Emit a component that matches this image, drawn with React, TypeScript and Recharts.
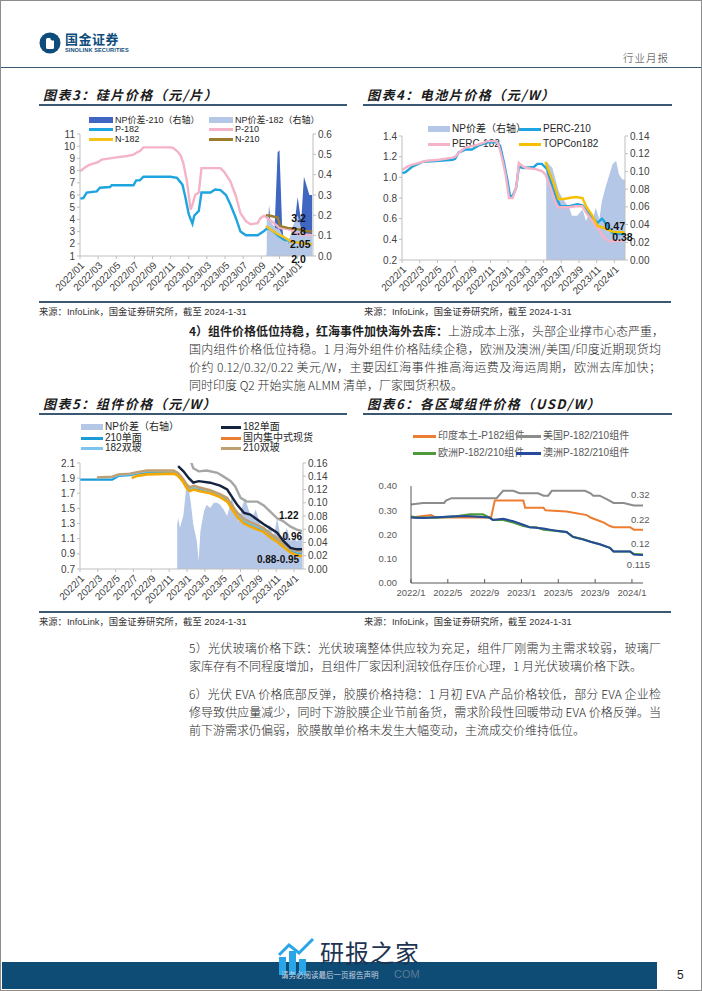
import React from 'react'
import { ComposedChart, Line, Area, XAxis, YAxis, ReferenceDot } from 'recharts'

type Pt = [number, number]

// x values are months counted from 2022/01 (0 = 2022/01, 24 = 2024/01)
const biMonthly = ['2022/01', '2022/03', '2022/05', '2022/07', '2022/09', '2022/11', '2023/01', '2023/03', '2023/05', '2023/07', '2023/09', '2023/11', '2024/01']
const biMonthlyShort = ['2022/1', '2022/3', '2022/5', '2022/7', '2022/9', '2022/11', '2023/1', '2023/3', '2023/5', '2023/7', '2023/9', '2023/11', '2024/1']
const quarterly = ['2022/1', '2022/5', '2022/9', '2023/1', '2023/5', '2023/9', '2024/1']

// 图表3 硅片价格（元/片）
const waferP182: Pt[] = [[0, 5.7], [0.37, 5.75], [0.74, 6.2], [1.85, 6.3], [2.2, 6.6], [3.3, 6.65], [3.5, 6.8], [5.9, 6.8], [6.2, 7.2], [6.6, 7.2], [7.0, 7.5], [10.0, 7.5], [10.7, 7.4], [11.3, 6.85], [11.6, 5.9], [12.0, 4.4], [12.4, 3.65], [12.6, 4.3], [13.1, 4.7], [13.4, 6.2], [14.4, 6.2], [14.9, 6.45], [15.5, 6.4], [16.1, 6.0], [16.6, 5.2], [17.2, 4.1], [17.7, 3.0], [18.3, 2.7], [19.6, 2.7], [20.3, 3.05], [20.7, 3.3], [21.2, 3.1], [21.8, 2.7], [22.5, 2.35], [23.2, 2.2], [24.0, 2.1], [25.6, 1.95]]
const waferP210: Pt[] = [[0, 7.95], [0.74, 8.35], [1.1, 8.5], [2.0, 8.7], [2.4, 8.9], [3.3, 9.0], [4.2, 9.1], [5.2, 9.2], [5.9, 9.3], [6.3, 9.5], [6.6, 9.6], [7.0, 9.9], [10.0, 9.9], [10.3, 9.85], [10.7, 9.6], [11.1, 9.25], [11.4, 8.6], [11.8, 7.1], [12.2, 4.8], [12.4, 5.2], [12.7, 6.0], [13.1, 6.2], [13.4, 8.2], [15.5, 8.2], [15.9, 7.9], [16.6, 7.1], [17.2, 5.9], [17.7, 4.5], [18.3, 3.85], [18.8, 3.6], [19.6, 3.7], [19.9, 4.1], [20.3, 4.3], [20.7, 4.1], [21.4, 3.7], [22.0, 3.3], [22.9, 3.2], [23.6, 3.05], [24.0, 2.8], [25.6, 2.7]]
const waferN182: Pt[] = [[20.5, 3.45], [21.0, 3.2], [21.8, 2.8], [22.5, 2.55], [23.2, 2.2], [24.0, 2.1], [25.1, 2.0], [25.6, 1.95]]
const waferN210: Pt[] = [[20.5, 4.35], [21.0, 4.3], [21.8, 4.15], [22.1, 3.45], [22.9, 3.3], [24.0, 3.2], [24.8, 3.05], [25.6, 3.0]]
const waferNp210: Pt[] = [[20.6, 0], [20.85, 0.25], [21.0, 0.17], [21.4, 0.07], [21.8, 0.51], [22.0, 0.52], [22.3, 0.14], [22.7, 0.01], [23.1, 0.09], [23.4, 0.04], [24.0, 0.29], [24.4, 0.17], [24.7, 0.39], [25.3, 0.3], [25.6, 0.3]]
const waferNp182: Pt[] = [[20.6, 0.19], [21.0, 0.17], [21.5, 0.14], [22.0, 0.13], [22.5, 0.09], [23.0, 0.06], [23.4, 0.14], [24.0, 0.2], [24.5, 0.12], [25.0, 0.1], [25.6, 0.1]]
const waferLeftTicks = [1, 2, 3, 4, 5, 6, 7, 8, 9, 10, 11]
const waferRightTicks = [0, 0.1, 0.2, 0.3, 0.4, 0.5, 0.6]

// 图表4 电池片价格（元/W）
const cellPerc210: Pt[] = [[0, 1.04], [0.4, 1.05], [1.1, 1.1], [2.3, 1.15], [4.2, 1.16], [5.7, 1.17], [6.0, 1.18], [6.4, 1.24], [7.2, 1.27], [7.9, 1.27], [8.7, 1.31], [9.8, 1.34], [10.8, 1.34], [11.1, 1.3], [11.5, 1.15], [11.9, 0.98], [12.2, 0.82], [12.5, 0.82], [12.9, 0.9], [13.2, 1.1], [13.8, 1.09], [14.9, 1.1], [15.3, 1.13], [15.8, 1.13], [16.4, 1.08], [17.0, 0.9], [17.5, 0.79], [17.9, 0.72], [18.9, 0.72], [19.8, 0.74], [20.4, 0.73], [20.9, 0.67], [21.5, 0.61], [22.1, 0.56], [22.6, 0.6], [22.8, 0.58], [23.4, 0.51], [23.8, 0.46], [24.3, 0.45], [25.2, 0.45]]
const cellPerc182: Pt[] = [[0, 1.07], [0.75, 1.11], [1.9, 1.14], [2.8, 1.16], [4.2, 1.17], [5.7, 1.19], [6.0, 1.2], [6.6, 1.25], [7.2, 1.29], [8.3, 1.31], [9.1, 1.33], [9.6, 1.35], [10.6, 1.35], [10.9, 1.32], [11.3, 1.19], [11.7, 1.03], [12.1, 0.8], [12.5, 0.8], [12.8, 0.87], [13.0, 0.96], [13.2, 1.14], [13.6, 1.11], [14.0, 1.09], [15.1, 1.08], [15.8, 1.06], [16.2, 1.03], [16.8, 0.9], [17.4, 0.74], [17.7, 0.71], [18.9, 0.71], [19.6, 0.72], [20.4, 0.72], [20.8, 0.66], [21.5, 0.58], [22.1, 0.51], [22.8, 0.42], [23.4, 0.38], [24.0, 0.38], [25.2, 0.39]]
const cellTopcon: Pt[] = [[16.2, 1.15], [16.6, 1.06], [17.2, 0.93], [17.7, 0.79], [18.3, 0.79], [18.9, 0.8], [19.6, 0.81], [20.4, 0.8], [20.8, 0.72], [21.5, 0.63], [22.1, 0.53], [22.8, 0.51], [23.6, 0.48], [24.2, 0.47], [25.2, 0.47]]
const cellNp: Pt[] = [[16.3, 0.112], [16.6, 0.108], [17.0, 0.104], [17.4, 0.089], [17.7, 0.078], [18.1, 0.07], [18.9, 0.059], [19.2, 0.05], [19.8, 0.05], [20.4, 0.057], [20.8, 0.044], [21.1, 0.052], [21.5, 0.044], [21.9, 0.059], [22.3, 0.046], [22.6, 0.067], [23.0, 0.082], [23.4, 0.095], [23.8, 0.108], [24.2, 0.112], [24.5, 0.097], [24.9, 0.091], [25.2, 0.091]]
const cellLeftTicks = [0.2, 0.4, 0.6, 0.8, 1.0, 1.2, 1.4]
const cellRightTicks = [0, 0.02, 0.04, 0.06, 0.08, 0.1, 0.12, 0.14]

// 图表5 组件价格（元/W）
const modMono210: Pt[] = [[0, 1.88], [3.6, 1.88], [4.3, 1.93], [5.6, 1.94], [6.4, 1.96], [7.5, 1.97], [10.5, 1.97], [11.0, 1.95], [11.5, 1.88], [12.0, 1.78], [12.3, 1.75], [12.8, 1.77], [13.3, 1.76], [14.6, 1.72], [15.7, 1.67], [16.5, 1.62], [17.0, 1.53], [17.6, 1.42], [18.4, 1.33], [19.1, 1.29], [19.9, 1.25], [20.6, 1.22], [21.3, 1.15], [22.1, 1.09], [22.8, 1.02], [23.6, 0.95], [24.3, 0.92], [24.9, 0.91]]
const modBi182: Pt[] = [[1.9, 1.9], [3.6, 1.91], [4.3, 1.94], [5.6, 1.95], [6.4, 1.97], [7.5, 1.99], [10.5, 1.99], [11.0, 1.96], [11.5, 1.89], [12.0, 1.79], [12.3, 1.76], [12.8, 1.78], [13.3, 1.77], [14.6, 1.73], [15.7, 1.68], [16.5, 1.63], [17.0, 1.54], [17.6, 1.43], [18.4, 1.34], [19.1, 1.3], [19.9, 1.26], [20.6, 1.23], [21.3, 1.16], [22.1, 1.1], [22.8, 1.03], [23.6, 0.96], [24.3, 0.93], [24.9, 0.92]]
const modBi210: Pt[] = [[1.9, 1.91], [3.6, 1.92], [4.3, 1.95], [5.6, 1.96], [6.4, 1.98], [7.5, 2.0], [10.5, 2.0], [11.0, 1.97], [11.5, 1.9], [12.0, 1.81], [12.3, 1.78], [12.8, 1.8], [13.3, 1.78], [14.6, 1.74], [15.7, 1.69], [16.5, 1.64], [17.0, 1.55], [17.6, 1.45], [18.4, 1.36], [19.1, 1.32], [19.9, 1.28], [20.6, 1.24], [21.3, 1.17], [22.1, 1.11], [22.8, 1.04], [23.6, 0.97], [24.3, 0.94], [24.9, 0.93]]
const modSpot: Pt[] = [[5.8, 1.9], [6.4, 1.93], [7.5, 1.95], [10.5, 1.96], [11.0, 1.93], [11.5, 1.86], [12.0, 1.76], [12.3, 1.73], [12.8, 1.75], [13.3, 1.73], [14.6, 1.7], [15.7, 1.65], [16.5, 1.59], [17.0, 1.5], [17.6, 1.39], [18.4, 1.3], [19.1, 1.26], [19.9, 1.22], [20.6, 1.19], [21.3, 1.12], [22.1, 1.06], [22.8, 0.99], [23.6, 0.92], [24.3, 0.88], [24.9, 0.87]]
const modMono182: Pt[] = [[11.0, 2.06], [11.6, 1.99], [12.2, 1.9], [12.7, 1.84], [13.3, 1.86], [14.6, 1.84], [15.7, 1.8], [16.5, 1.75], [17.0, 1.66], [17.6, 1.55], [18.4, 1.44], [19.1, 1.42], [19.9, 1.35], [20.6, 1.29], [21.3, 1.24], [22.1, 1.18], [22.8, 1.07], [23.6, 0.98], [24.3, 0.96], [24.9, 0.96]]
const modGrey: Pt[] = [[12.2, 2.2], [12.7, 2.03], [13.3, 1.99], [14.2, 2.0], [15.4, 1.97], [16.1, 1.92], [16.9, 1.86], [17.4, 1.79], [18.0, 1.64], [18.7, 1.59], [19.9, 1.59], [20.6, 1.54], [21.3, 1.46], [22.1, 1.37], [22.8, 1.33], [23.6, 1.26], [24.3, 1.22], [24.9, 1.2]]
const modNp: Pt[] = [[10.9, 0.067], [11.0, 0.077], [11.2, 0.062], [11.6, 0.082], [11.9, 0.122], [12.2, 0.12], [12.4, 0.102], [12.7, 0.067], [13.1, 0.042], [13.3, 0.012], [13.5, 0.057], [13.9, 0.087], [14.2, 0.097], [14.6, 0.092], [15.0, 0.1], [15.4, 0.1], [15.7, 0.097], [16.1, 0.09], [16.5, 0.08], [16.9, 0.1], [17.0, 0.112], [17.4, 0.087], [17.8, 0.072], [18.2, 0.095], [18.5, 0.107], [18.9, 0.09], [19.3, 0.077], [19.7, 0.09], [20.2, 0.067], [20.6, 0.062], [21.0, 0.057], [21.3, 0.067], [21.7, 0.047], [22.1, 0.077], [22.5, 0.047], [22.8, 0.05], [23.2, 0.062], [23.6, 0.042], [24.0, 0.047], [24.3, 0.042], [24.9, 0.047]]
const modLeftTicks = [0.7, 0.9, 1.1, 1.3, 1.5, 1.7, 1.9, 2.1]
const modRightTicks = [0, 0.02, 0.04, 0.06, 0.08, 0.1, 0.12, 0.14, 0.16]

// 图表6 各区域组件价格（USD/W）
const regIndia: Pt[] = [[0, 0.27], [2.2, 0.28], [2.7, 0.27], [8.7, 0.27], [9.1, 0.34], [12.2, 0.34], [12.4, 0.31], [14.4, 0.31], [14.6, 0.3], [16.9, 0.295], [19.1, 0.28], [19.5, 0.27], [20.2, 0.26], [20.9, 0.25], [21.6, 0.235], [22.0, 0.23], [23.8, 0.23], [24.2, 0.22], [25.2, 0.22]]
const regUS: Pt[] = [[0, 0.324], [1.3, 0.33], [3.6, 0.33], [3.8, 0.34], [4.4, 0.35], [9.3, 0.35], [10.0, 0.38], [11.1, 0.38], [11.8, 0.37], [13.8, 0.37], [14.4, 0.36], [14.9, 0.36], [15.3, 0.38], [18.9, 0.38], [19.5, 0.37], [19.8, 0.36], [20.5, 0.36], [21.3, 0.345], [22.0, 0.33], [23.1, 0.33], [24.2, 0.32], [25.2, 0.32]]
const regEurope: Pt[] = [[0, 0.275], [0.5, 0.27], [2.7, 0.27], [4.9, 0.275], [6.4, 0.283], [7.8, 0.283], [8.5, 0.27], [8.9, 0.26], [10.0, 0.26], [11.1, 0.25], [12.2, 0.235], [12.9, 0.23], [13.6, 0.23], [14.4, 0.22], [15.8, 0.215], [16.9, 0.21], [17.6, 0.19], [18.7, 0.18], [19.5, 0.17], [20.5, 0.16], [21.6, 0.145], [22.0, 0.13], [23.8, 0.13], [24.2, 0.12], [25.2, 0.117]]
const regAustralia: Pt[] = [[0, 0.27], [1.3, 0.268], [4.9, 0.275], [6.4, 0.275], [8.5, 0.27], [8.9, 0.26], [10.0, 0.265], [11.1, 0.255], [12.2, 0.24], [12.9, 0.23], [14.4, 0.225], [15.8, 0.215], [16.9, 0.21], [17.6, 0.19], [18.7, 0.18], [19.5, 0.17], [20.5, 0.16], [21.6, 0.145], [22.0, 0.13], [23.8, 0.13], [24.2, 0.117], [25.2, 0.115]]
const regTicks = [0, 0.1, 0.2, 0.3, 0.4]

const SANS = 'Arial, "Liberation Sans", "Noto Sans CJK SC", sans-serif'
const CJK = '"Noto Sans CJK SC", sans-serif'
const RULE = '#3b5873'
const AXIS = '#bfbfbf'
const TICK = { fontSize: 10, fill: '#404040', fontFamily: SANS }

const rows = (pts: Pt[]) => pts.map(([m, v]) => ({ m, v }))
const evenTicks = (n: number, step: number) => Array.from({ length: n }, (_, i) => i * step)

function Key({ x, y, w, color, text, area = false, tc = '#262626', size = 10, h = 14 }: any) {
  return (
    <div style={{ position: 'absolute', left: x, top: y - h / 2, height: h, lineHeight: `${h}px`, display: 'flex', alignItems: 'center', whiteSpace: 'nowrap', fontSize: size, color: tc, fontFamily: SANS }}>
      <span style={{ display: 'inline-block', width: w, height: area ? 6 : 3, background: color, marginRight: 2 }} />
      {text}
    </div>
  )
}

function Title({ x, y, w, text }: any) {
  return (
    <>
      <div style={{ position: 'absolute', left: x, top: y - 9, lineHeight: '18px', fontFamily: CJK, fontWeight: 700, fontStyle: 'italic', fontSize: 13, letterSpacing: 1.5, color: '#1a1a1a', whiteSpace: 'nowrap' }}>{text}</div>
      <div style={{ position: 'absolute', left: x - 4, top: y + 9, width: w, height: 1.5, background: RULE }} />
    </>
  )
}

function Source({ x, y }: any) {
  return (
    <div style={{ position: 'absolute', left: x, top: y - 6, lineHeight: '12px', fontSize: 9.3, fontFamily: SANS, color: '#333', whiteSpace: 'nowrap' }}>
      来源：InfoLink，国金证券研究所，截至 2024-1-31
    </div>
  )
}

function Para({ top, lines }: { top: number; lines: React.ReactNode[] }) {
  return (
    <div style={{ position: 'absolute', left: 188, top, width: 472, fontFamily: CJK, fontWeight: 300, fontSize: 12, color: '#1f1f1f', lineHeight: '18px' }}>
      {lines.map((l, i) => (
        <div key={i} style={{ textAlign: 'justify', textAlignLast: i === lines.length - 1 ? 'left' : 'justify', whiteSpace: 'nowrap' }}>{l}</div>
      ))}
    </div>
  )
}

const note = (fs = 10.5) => ({ position: 'center' as const, fill: '#111', fontSize: fs, fontWeight: 700, fontFamily: SANS })

function WaferChart() {
  return (
    <div style={{ position: 'absolute', left: 30, top: 108 }}>
      <ComposedChart width={320} height={190} margin={{ top: 25, right: 0, bottom: 0, left: 0 }}>
        <XAxis dataKey="m" type="number" domain={[0, 25.7]} ticks={evenTicks(13, 2)} interval={0} tickFormatter={(v) => biMonthly[Math.round(v / 2)]} angle={-45} textAnchor="end" height={43} tick={TICK} stroke={AXIS} tickSize={3} />
        <YAxis yAxisId="l" domain={[1, 11]} ticks={waferLeftTicks} interval={0} width={49} tick={TICK} stroke={AXIS} tickSize={3} allowDataOverflow />
        <YAxis yAxisId="r" orientation="right" domain={[0, 0.6]} ticks={waferRightTicks} interval={0} width={38} tick={TICK} stroke={AXIS} tickSize={3} tickFormatter={(v) => v.toFixed(1)} allowDataOverflow />
        <Area data={rows(waferNp210)} dataKey="v" yAxisId="r" type="linear" stroke="none" fill="#3f66c0" fillOpacity={1} isAnimationActive={false} />
        <Area data={rows(waferNp182)} dataKey="v" yAxisId="r" type="linear" stroke="none" fill="#b4c7e7" fillOpacity={1} isAnimationActive={false} />
        <Line data={rows(waferP210)} dataKey="v" yAxisId="l" stroke="#f5b3c7" strokeWidth={2.4} dot={false} isAnimationActive={false} />
        <Line data={rows(waferP182)} dataKey="v" yAxisId="l" stroke="#1ea5df" strokeWidth={2.4} dot={false} isAnimationActive={false} />
        <Line data={rows(waferN210)} dataKey="v" yAxisId="l" stroke="#9c7d2c" strokeWidth={2.4} dot={false} isAnimationActive={false} />
        <Line data={rows(waferN182)} dataKey="v" yAxisId="l" stroke="#f5c318" strokeWidth={2.4} dot={false} isAnimationActive={false} />
        <ReferenceDot x={24.1} y={4.11} yAxisId="l" r={0} ifOverflow="visible" label={{ value: '3.2', ...note() }} />
        <ReferenceDot x={24.1} y={3.05} yAxisId="l" r={0} ifOverflow="visible" label={{ value: '2.8', ...note() }} />
        <ReferenceDot x={24.3} y={1.98} yAxisId="l" r={0} ifOverflow="visible" label={{ value: '2.05', ...note() }} />
        <ReferenceDot x={24.1} y={0.76} yAxisId="l" r={0} ifOverflow="visible" label={{ value: '2.0', ...note() }} />
      </ComposedChart>
    </div>
  )
}

function CellChart() {
  return (
    <div style={{ position: 'absolute', left: 355, top: 108 }}>
      <ComposedChart width={320} height={190} margin={{ top: 27, right: 0, bottom: 0, left: 0 }}>
        <XAxis dataKey="m" type="number" domain={[0, 25.2]} ticks={evenTicks(13, 2)} interval={0} tickFormatter={(v) => biMonthlyShort[Math.round(v / 2)]} angle={-45} textAnchor="end" height={39} tick={TICK} stroke={AXIS} tickSize={3} />
        <YAxis yAxisId="l" domain={[0.2, 1.4]} ticks={cellLeftTicks} interval={0} width={46} tick={TICK} stroke={AXIS} tickSize={3} tickFormatter={(v) => v.toFixed(1)} allowDataOverflow />
        <YAxis yAxisId="r" orientation="right" domain={[0, 0.14]} ticks={cellRightTicks} interval={0} width={51} tick={TICK} stroke={AXIS} tickSize={3} tickFormatter={(v) => v.toFixed(2)} allowDataOverflow />
        <Area data={rows(cellNp)} dataKey="v" yAxisId="r" type="linear" stroke="none" fill="#b4c7e7" fillOpacity={1} isAnimationActive={false} />
        <Line data={rows(cellPerc210)} dataKey="v" yAxisId="l" stroke="#1ea5df" strokeWidth={2.4} dot={false} isAnimationActive={false} />
        <Line data={rows(cellPerc182)} dataKey="v" yAxisId="l" stroke="#f5b3c7" strokeWidth={2.4} dot={false} isAnimationActive={false} />
        <Line data={rows(cellTopcon)} dataKey="v" yAxisId="l" stroke="#f5c000" strokeWidth={2.4} dot={false} isAnimationActive={false} />
        <ReferenceDot x={24.05} y={0.53} yAxisId="l" r={0} ifOverflow="visible" label={{ value: '0.47', ...note() }} />
        <ReferenceDot x={24.9} y={0.416} yAxisId="l" r={0} ifOverflow="visible" label={{ value: '0.38', ...note() }} />
      </ComposedChart>
    </div>
  )
}

function ModuleChart() {
  return (
    <div style={{ position: 'absolute', left: 30, top: 420 }}>
      <ComposedChart width={320} height={185} margin={{ top: 42, right: 0, bottom: 0, left: 0 }}>
        <XAxis dataKey="m" type="number" domain={[0, 25]} ticks={evenTicks(13, 2)} interval={0} tickFormatter={(v) => biMonthlyShort[Math.round(v / 2)]} angle={-45} textAnchor="end" height={37} tick={TICK} stroke={AXIS} tickSize={3} />
        <YAxis yAxisId="l" domain={[0.7, 2.1]} ticks={modLeftTicks} interval={0} width={49} tick={TICK} stroke={AXIS} tickSize={3} tickFormatter={(v) => v.toFixed(1)} allowDataOverflow />
        <YAxis yAxisId="r" orientation="right" domain={[0, 0.16]} ticks={modRightTicks} interval={0} width={48} tick={TICK} stroke={AXIS} tickSize={3} tickFormatter={(v) => v.toFixed(2)} allowDataOverflow />
        <Area data={rows(modNp)} dataKey="v" yAxisId="r" type="linear" stroke="none" fill="#b4c7e7" fillOpacity={1} isAnimationActive={false} />
        <Line data={rows(modGrey)} dataKey="v" yAxisId="l" stroke="#a6a6a6" strokeWidth={2.4} dot={false} isAnimationActive={false} />
        <Line data={rows(modMono210)} dataKey="v" yAxisId="l" stroke="#1a9ad6" strokeWidth={2.4} dot={false} isAnimationActive={false} />
        <Line data={rows(modBi182)} dataKey="v" yAxisId="l" stroke="#7cc4ec" strokeWidth={2.4} dot={false} isAnimationActive={false} />
        <Line data={rows(modBi210)} dataKey="v" yAxisId="l" stroke="#bfa073" strokeWidth={2.4} dot={false} isAnimationActive={false} />
        <Line data={rows(modSpot)} dataKey="v" yAxisId="l" stroke="#f5a800" strokeWidth={2.6} dot={false} isAnimationActive={false} />
        <Line data={rows(modMono182)} dataKey="v" yAxisId="l" stroke="#15233f" strokeWidth={2.4} dot={false} isAnimationActive={false} />
        <ReferenceDot x={23.4} y={1.41} yAxisId="l" r={0} ifOverflow="visible" label={{ value: '1.22', ...note(10) }} />
        <ReferenceDot x={23.8} y={1.136} yAxisId="l" r={0} ifOverflow="visible" label={{ value: '0.96', ...note(10) }} />
        <ReferenceDot x={22.2} y={0.828} yAxisId="l" r={0} ifOverflow="visible" label={{ value: '0.88-0.95', ...note(10) }} />
      </ComposedChart>
    </div>
  )
}

function RegionChart() {
  const t6 = { fontSize: 9.5, fill: '#595959', fontFamily: SANS }
  const endNote = { position: 'center' as const, fill: '#595959', fontSize: 9.5, fontFamily: SANS }
  return (
    <div style={{ position: 'absolute', left: 355, top: 420 }}>
      <ComposedChart width={320} height={185} margin={{ top: 65, right: 33, bottom: 0, left: 0 }}>
        <XAxis dataKey="m" type="number" domain={[0, 25.2]} ticks={evenTicks(7, 4)} interval={0} tickFormatter={(v) => quarterly[Math.round(v / 4)]} height={23} tick={t6} stroke="#595959" tickSize={-4} tickMargin={10} />
        <YAxis domain={[0, 0.4]} ticks={regTicks} interval={0} width={55} tick={t6} stroke="#595959" tickLine={false} tickMargin={8} tickFormatter={(v) => v.toFixed(2)} />
        <Line data={rows(regUS)} dataKey="v" stroke="#8c8c8c" strokeWidth={2} dot={false} isAnimationActive={false} />
        <Line data={rows(regIndia)} dataKey="v" stroke="#ed7d31" strokeWidth={2} dot={false} isAnimationActive={false} />
        <Line data={rows(regEurope)} dataKey="v" stroke="#4e9a3a" strokeWidth={2.2} dot={false} isAnimationActive={false} />
        <Line data={rows(regAustralia)} dataKey="v" stroke="#264a9c" strokeWidth={2} dot={false} isAnimationActive={false} />
        <ReferenceDot x={24.9} y={0.363} r={0} ifOverflow="visible" label={{ value: '0.32', ...endNote }} />
        <ReferenceDot x={24.9} y={0.26} r={0} ifOverflow="visible" label={{ value: '0.22', ...endNote }} />
        <ReferenceDot x={24.9} y={0.161} r={0} ifOverflow="visible" label={{ value: '0.12', ...endNote }} />
        <ReferenceDot x={24.7} y={0.074} r={0} ifOverflow="visible" label={{ value: '0.115', ...endNote }} />
      </ComposedChart>
    </div>
  )
}

export default function App() {
  return (
    <div style={{ position: 'absolute', left: 0, top: 0, width: 702, height: 991, background: '#fff', border: '1px solid #8c8c8c', boxSizing: 'border-box', overflow: 'hidden' }}>
      {/* header */}
      <svg style={{ position: 'absolute', left: 38, top: 31 }} width={22} height={22}>
        <circle cx={11} cy={11} r={10.5} fill="#0e4d7b" />
        <rect x={7} y={6} width={8} height={11} rx={1.5} fill="#fff" />
        <circle cx={14} cy={6} r={2.6} fill="#0e4d7b" />
      </svg>
      <div style={{ position: 'absolute', left: 64, top: 31, lineHeight: '14px', fontFamily: CJK, fontWeight: 700, fontSize: 13, color: '#0e4d7b', letterSpacing: 0.5 }}>国金证券</div>
      <div style={{ position: 'absolute', left: 64, top: 46, lineHeight: '7px', fontFamily: SANS, fontWeight: 700, fontSize: 5.6, color: '#0e4d7b', letterSpacing: 0.1 }}>SINOLINK SECURITIES</div>
      <div style={{ position: 'absolute', left: 622, top: 50, lineHeight: '14px', fontFamily: CJK, fontWeight: 300, fontSize: 10.5, color: '#333', letterSpacing: 1 }}>行业月报</div>
      <div style={{ position: 'absolute', left: 0, top: 65.5, width: 702, height: 1.5, background: RULE }} />

      {/* top pair */}
      <Title x={42} y={94} w={308} text="图表3：硅片价格（元/片）" />
      <Title x={366} y={94} w={309} text="图表4：电池片价格（元/W）" />
      <Key x={88} y={119} w={24} h={9} size={9} area color="#3f66c0" text="NP价差-210（右轴）" />
      <Key x={208} y={119} w={24} h={9} size={9} area color="#b4c7e7" text="NP价差-182（右轴）" />
      <Key x={88} y={128.5} w={24} h={9} size={9} color="#1ea5df" text="P-182" />
      <Key x={208} y={128.5} w={24} h={9} size={9} color="#f5b3c7" text="P-210" />
      <Key x={88} y={138} w={24} h={9} size={9} color="#f5c318" text="N-182" />
      <Key x={208} y={138} w={24} h={9} size={9} color="#9c7d2c" text="N-210" />
      <WaferChart />
      <Key x={427} y={128} w={22} area color="#b4c7e7" text="NP价差（右轴）" />
      <Key x={518} y={128} w={22} color="#1ea5df" text="PERC-210" />
      <Key x={427} y={143} w={22} color="#f5b3c7" text="PERC-182" />
      <Key x={518} y={143} w={22} color="#f5c000" text="TOPCon182" />
      <CellChart />
      <div style={{ position: 'absolute', left: 38, top: 300, width: 632, height: 1.5, background: RULE }} />
      <Source x={38} y={311} />
      <Source x={363} y={311} />

      <Para top={321} lines={[
        <><b style={{ fontWeight: 700 }}>4）组件价格低位持稳，红海事件加快海外去库：</b>上游成本上涨，头部企业撑市心态严重，</>,
        '国内组件价格低位持稳。1 月海外组件价格陆续企稳，欧洲及澳洲/美国/印度近期现货均',
        '价约 0.12/0.32/0.22 美元/W，主要因红海事件推高海运费及海运周期，欧洲去库加快；',
        '同时印度 Q2 开始实施 ALMM 清单，厂家囤货积极。',
      ]} />

      {/* bottom pair */}
      <Title x={42} y={403} w={308} text="图表5：组件价格（元/W）" />
      <Title x={366} y={403} w={309} text="图表6：各区域组件价格（USD/W）" />
      <Key x={80} y={426} w={22} h={10} area color="#b4c7e7" text="NP价差（右轴）" />
      <Key x={220} y={426} w={20} h={10} color="#15233f" text="182单面" />
      <Key x={80} y={437} w={22} h={10} color="#1a9ad6" text="210单面" />
      <Key x={220} y={437} w={20} h={10} color="#ed7d31" text="国内集中式现货" />
      <Key x={80} y={447} w={22} h={10} color="#7cc4ec" text="182双玻" />
      <Key x={220} y={447} w={20} h={10} color="#bfa073" text="210双玻" />
      <ModuleChart />
      <Key x={412} y={435} w={23} color="#ed7d31" text="印度本土-P182组件" tc="#595959" />
      <Key x={515} y={435} w={25} color="#8c8c8c" text="美国P-182/210组件" tc="#595959" />
      <Key x={412} y={452} w={23} color="#4e9a3a" text="欧洲P-182/210组件" tc="#595959" />
      <Key x={515} y={452} w={25} color="#264a9c" text="澳洲P-182/210组件" tc="#595959" />
      <RegionChart />
      <div style={{ position: 'absolute', left: 38, top: 610, width: 632, height: 1.5, background: RULE }} />
      <Source x={38} y={621} />
      <Source x={363} y={621} />

      <Para top={638} lines={[
        '5）光伏玻璃价格下跌：光伏玻璃整体供应较为充足，组件厂刚需为主需求较弱，玻璃厂',
        '家库存有不同程度增加，且组件厂家因利润较低存压价心理，1 月光伏玻璃价格下跌。',
      ]} />
      <Para top={684} lines={[
        '6）光伏 EVA 价格底部反弹，胶膜价格持稳：1 月初 EVA 产品价格较低，部分 EVA 企业检',
        '修导致供应量减少，同时下游胶膜企业节前备货，需求阶段性回暖带动 EVA 价格反弹。当',
        '前下游需求仍偏弱，胶膜散单价格未发生大幅变动，主流成交价维持低位。',
      ]} />

      {/* footer */}
      <div style={{ position: 'absolute', left: 1, top: 961, width: 655, height: 27, background: '#0f4c75' }} />
      <svg style={{ position: 'absolute', left: 276, top: 934 }} width={40} height={40}>
        <rect x={2} y={22} width={7} height={18} fill="#2aa6e8" />
        <rect x={12} y={16} width={7} height={24} fill="#2aa6e8" />
        <rect x={22} y={24} width={7} height={16} fill="#2aa6e8" />
        <polyline points="2,20 12,10 22,18 36,4" fill="none" stroke="#2aa6e8" strokeWidth={3} />
      </svg>
      <div style={{ position: 'absolute', left: 319, top: 937, fontFamily: CJK, fontSize: 24, color: '#1e3350', letterSpacing: 1, lineHeight: '28px' }}>研报之家</div>
      <div style={{ position: 'absolute', left: 280, top: 969, lineHeight: '10px', fontFamily: CJK, fontSize: 7.5, color: '#c9d4e2' }}>请务必阅读最后一页报告声明</div>
      <div style={{ position: 'absolute', left: 393, top: 967, lineHeight: '12px', fontFamily: SANS, fontSize: 11, color: '#5b7a96' }}>COM</div>
      <div style={{ position: 'absolute', left: 676, top: 967, lineHeight: '14px', fontFamily: SANS, fontSize: 12, color: '#222' }}>5</div>
    </div>
  )
}
